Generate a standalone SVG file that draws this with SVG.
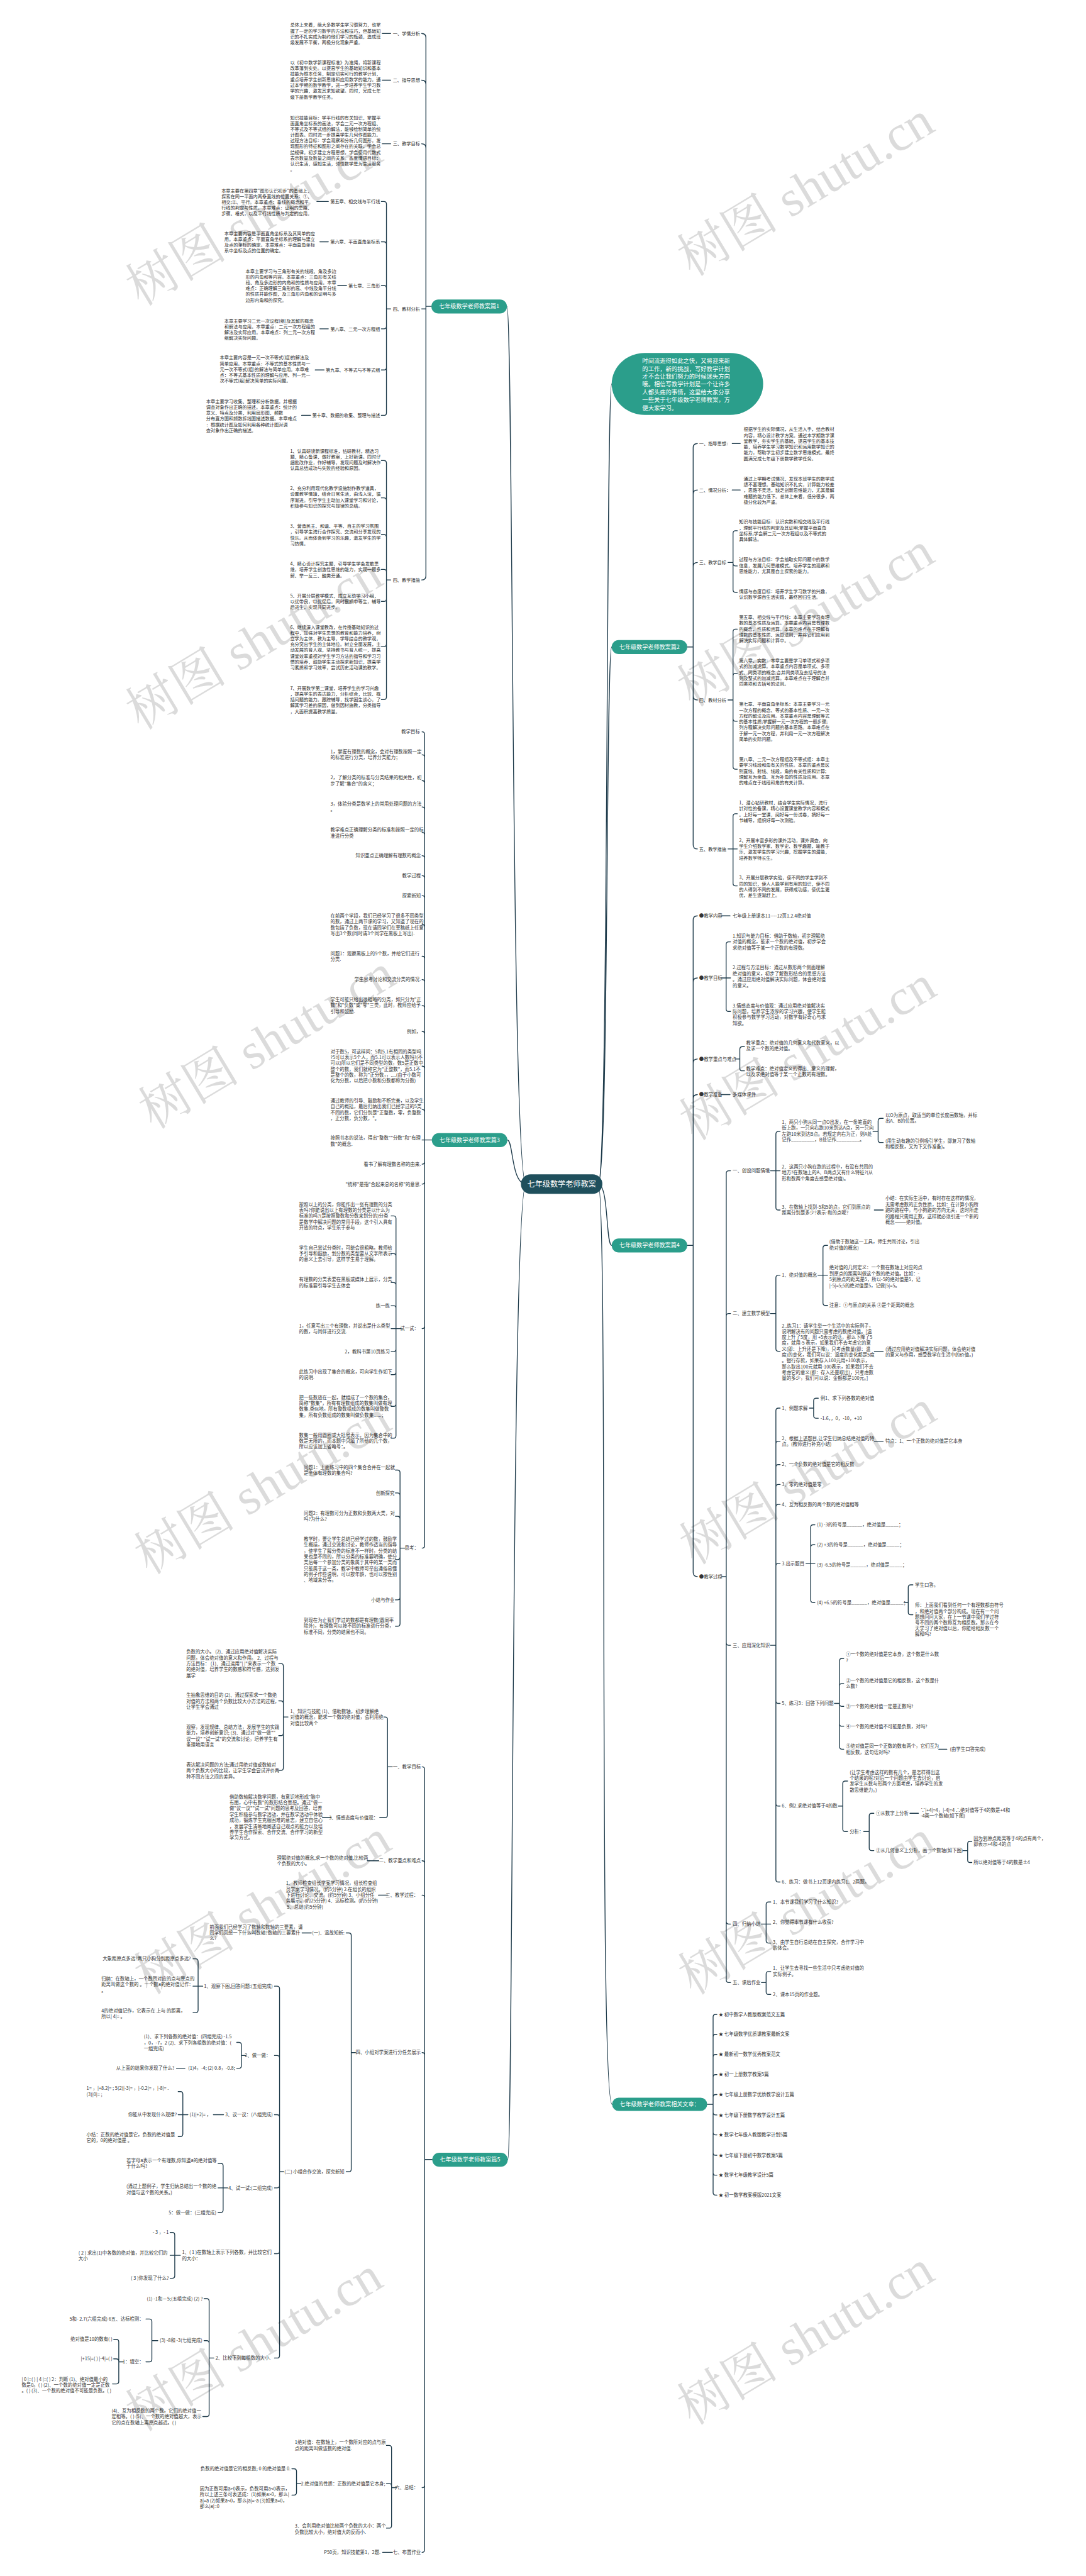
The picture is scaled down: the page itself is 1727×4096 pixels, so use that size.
<svg xmlns="http://www.w3.org/2000/svg" width="1727" height="4096" viewBox="0 0 1727 4096">
<style>
text{font-family:"Noto Sans CJK SC","Liberation Sans",sans-serif;font-size:11px;fill:#333}
.e{text-anchor:end}
.h text{font-size:10.7px;fill:#2a2a2a}
#connectors path{fill:none;stroke:#1d3a4a;stroke-width:2;stroke-linecap:round}
.n rect{fill:#2b9e8b}
.n text{fill:#fff;font-size:13.5px;text-anchor:middle}
.ctr rect{fill:#1f4f5c}
.ctr text{fill:#fff;font-size:18px;text-anchor:middle}
.wm text{font-family:"Liberation Serif","Noto Serif CJK SC","Noto Sans CJK SC",serif;font-size:120px;fill:#000;fill-opacity:.14;text-anchor:middle}
</style>
<rect width="1727" height="4096" fill="#fff"/>
<g transform="scale(0.6746)">
<g id="connectors">
<path d="M1240 2791C1205 2791 1210 722 1195 722M1240 2791C1205 2791 1210 2687 1196 2687M1240 2791C1205 2791 1210 5090 1197 5090M1410 2791C1435 2791 1428 905 1442 905M1410 2791C1435 2791 1428 1525 1442 1525M1410 2791C1435 2791 1428 2935.5 1442 2935.5M1410 2791C1435 2791 1410 4960 1443 4960"/>
<path d="M1017 722H1004V89Q1004 79 994 79M1017 722H1004V199Q1004 189 994 189M1017 722H1004V349Q1004 339 994 339M1017 722H1004V728H994M1017 722H1004V1357Q1004 1367 994 1367"/>
<path d="M901 79H921M901 189H921M901 339H921"/>
<path d="M921 728H911V481Q911 475 905 475H899M921 728H911V576Q911 570 905 570H899M921 728H911V679Q911 673 905 673H899M921 728H911V769Q911 775 905 775H899M921 728H911V866Q911 872 905 872H899M921 728H911V973Q911 979 905 979H899"/>
<path d="M747 475H774M754 570H774M796 673H817M754 775H774M743 872H764M711 979H732"/>
<path d="M921 1367H911V1091.5Q911 1085.5 905 1085.5H899M921 1367H911V1179.5Q911 1173.5 905 1173.5H899M921 1367H911V1266Q911 1260 905 1260H899M921 1367H911V1348Q911 1342 905 1342H899M921 1367H911V1411.5Q911 1417.5 905 1417.5H899M921 1367H911V1518Q911 1524 905 1524H899M921 1367H911V1643Q911 1649 905 1649H899"/>
<path d="M1018 2687H1001V1731Q1001 1725 995 1725M1018 2687H1001V1785Q1001 1779 995 1779M1018 2687H1001V1846Q1001 1840 995 1840M1018 2687H1001V1908Q1001 1902 995 1902M1018 2687H1001V1968Q1001 1962 995 1962M1018 2687H1001V2023Q1001 2017 995 2017M1018 2687H1001V2070Q1001 2064 995 2064M1018 2687H1001V2117Q1001 2111 995 2111M1018 2687H1001V2185Q1001 2179 995 2179M1018 2687H1001V2260Q1001 2254 995 2254M1018 2687H1001V2315Q1001 2309 995 2309M1018 2687H1001V2376Q1001 2370 995 2370M1018 2687H1001V2437Q1001 2431 995 2431M1018 2687H1001V2519Q1001 2513 995 2513M1018 2687H1001V2621Q1001 2615 995 2615M1018 2687H995M1018 2687H1001V2738Q1001 2744 995 2744M1018 2687H1001V2785Q1001 2791 995 2791M1018 2687H1001V3125.6Q1001 3131.6 995 3131.6M1018 2687H1001V3643Q1001 3649 995 3649"/>
<path d="M946 3131.6H933.5V2872Q933.5 2866 927.5 2866H922M946 3131.6H933.5V2961Q933.5 2955 927.5 2955H922M946 3131.6H933.5V3029Q933.5 3023 927.5 3023H922M946 3131.6H933.5V3083.6Q933.5 3077.6 927.5 3077.6H922M946 3131.6H922M946 3131.6H933.5V3179.7Q933.5 3185.7 927.5 3185.7H922M946 3131.6H933.5V3234Q933.5 3240 927.5 3240H922M946 3131.6H933.5V3309Q933.5 3315 927.5 3315H922M946 3131.6H933.5V3384Q933.5 3390 927.5 3390H922"/>
<path d="M955 3649H943V3471Q943 3465 937 3465H932M955 3649H943V3525Q943 3519 937 3519H932M955 3649H943V3580Q943 3574 937 3574H932M955 3649H943V3670Q943 3676 937 3676H932M955 3649H943V3765Q943 3771 937 3771H932M955 3649H943V3827Q943 3833 937 3833H932"/>
<path d="M1019 5090H1001V4170.5Q1001 4164.5 995 4164.5M1019 5090H1001V4392Q1001 4386 995 4386M1019 5090H1001V4473Q1001 4467 995 4467M1019 5090H1001V4844Q1001 4838 995 4838M1019 5090H1001V5857.5Q1001 5863.5 995 5863.5M1019 5090H1001V6010Q1001 6016 995 6016"/>
<path d="M925 4164.5H913.5V4053Q913.5 4047 907.5 4047H905M925 4164.5H913.5V4278Q913.5 4284 907.5 4284H895"/>
<path d="M679 4047H668V3927Q668 3921 662 3921H657M679 4047H668V4015Q668 4009 662 4009H657M679 4047H668V4085Q668 4091 662 4091H657M679 4047H668V4167Q668 4173 662 4173H657"/>
<path d="M760 4284H781M866 4386H893M892 4467H914M712 4556H734M416 4875H436M503 4984.5H527M902 6016H925"/>
<path d="M838 4838H828V4562Q828 4556 822 4556H816M838 4838H828V5113Q828 5119 822 5119H816"/>
<path d="M669 5119H659V4687.5Q659 4681.5 653 4681.5H647M669 5119H659V4851Q659 4845 653 4845H647M669 5119H659V4990.5Q659 4984.5 653 4984.5H647M669 5119H659V5151Q659 5157 653 5157H647M669 5119H659V5306Q659 5312 653 5312H647M669 5119H659V5552Q659 5558 653 5558H647"/>
<path d="M478 4681.5H467V4623Q467 4617 461 4617H455M478 4681.5H455M478 4681.5H467V4738Q467 4744 461 4744H455"/>
<path d="M579 4845H569V4820Q569 4814 563 4814H558M579 4845H569V4869Q569 4875 563 4875H558"/>
<path d="M443 4984.5H431V4936Q431 4930 425 4930H420M443 4984.5H420M443 4984.5H431V5030Q431 5036 425 5036H420"/>
<path d="M537 5157H526V5105Q526 5099 520 5099H514M537 5157H514M537 5157H526V5209Q526 5215 520 5215H514"/>
<path d="M425 5316H412V5268Q412 5262 406 5262H401M425 5316H401M425 5316H412V5364Q412 5370 406 5370H401"/>
<path d="M504 5558H493V5424Q493 5418 487 5418H481M504 5558H493V5523Q493 5517 487 5517H481M504 5558H493V5690Q493 5696 487 5696H478"/>
<path d="M372 5517H358V5472Q358 5466 352 5466H344M372 5517H358V5561Q358 5567 352 5567H344"/>
<path d="M291 5567H280V5520Q280 5514 274 5514H268M291 5567H280V5566Q280 5560 274 5560H268M291 5567H280V5613Q280 5619 274 5619H265"/>
<path d="M935 5863.5H923V5770Q923 5764 917 5764H911M935 5863.5H923V5859.6Q923 5853.6 917 5853.6H911M935 5863.5H923V5953Q923 5959 917 5959H911"/>
<path d="M710 5853.6H699V5825Q699 5819 693 5819H688M710 5853.6H699V5875Q699 5881 693 5881H688"/>
<path d="M1620 1525H1634V1055.5Q1634 1045.5 1644 1045.5M1620 1525H1634V1165Q1634 1155 1644 1155M1620 1525H1634V1335.7Q1634 1325.7 1644 1325.7M1620 1525H1634V1639.8Q1634 1649.8 1644 1649.8M1620 1525H1634V1991Q1634 2001 1644 2001"/>
<path d="M1726 1045.5H1745M1726 1155H1745M1701 2158.7H1721M1701 2580H1721M2061 2852H2082M2061 3185H2082M2061 3397H2082M2213 4123H2232M2145 4274H2165"/>
<path d="M1716 1325.7H1728V1257Q1728 1251 1734 1251H1738M1716 1325.7H1728V1328Q1728 1334 1734 1334H1738M1716 1325.7H1728V1390Q1728 1396 1734 1396H1738"/>
<path d="M1716 1649.8H1728V1489Q1728 1483 1734 1483H1738M1716 1649.8H1728V1593Q1728 1587 1734 1587H1738M1716 1649.8H1728V1694Q1728 1700 1734 1700H1738M1716 1649.8H1728V1807Q1728 1813 1734 1813H1738"/>
<path d="M1716 2001H1728V1924Q1728 1918 1734 1918H1738M1716 2001H1738M1716 2001H1728V2082Q1728 2088 1734 2088H1738"/>
<path d="M1620 2935.5H1634V2168.7Q1634 2158.7 1644 2158.7M1620 2935.5H1634V2315Q1634 2305 1644 2305M1620 2935.5H1634V2506Q1634 2496 1644 2496M1620 2935.5H1634V2590Q1634 2580 1644 2580M1620 2935.5H1634V3706Q1634 3716 1644 3716"/>
<path d="M1701 2305H1711.7V2226Q1711.7 2220 1717.7 2220H1722M1701 2305H1722M1701 2305H1711.7V2378Q1711.7 2384 1717.7 2384H1722"/>
<path d="M1733 2496H1744V2473Q1744 2467 1750 2467H1755M1733 2496H1744V2518Q1744 2524 1750 2524H1755"/>
<path d="M1701 3716H1712V2765.5Q1712 2759.5 1718 2759.5H1722M1701 3716H1712V3102Q1712 3096 1718 3096H1722M1701 3716H1712V3872Q1712 3878 1718 3878H1722M1701 3716H1712V4529Q1712 4535 1718 4535H1722M1701 3716H1712V4667Q1712 4673 1718 4673H1722"/>
<path d="M1816 2759.5H1829V2673Q1829 2667 1835 2667H1839M1816 2759.5H1839M1816 2759.5H1829V2846Q1829 2852 1835 2852H1839"/>
<path d="M2058 2667H2070V2642Q2070 2636 2076 2636H2082M2058 2667H2070V2687Q2070 2693 2076 2693H2082"/>
<path d="M1816 3096H1829V3011.6Q1829 3005.6 1835 3005.6H1839M1816 3096H1829V3179Q1829 3185 1835 3185H1839"/>
<path d="M1928 3005.6H1940V2941.5Q1940 2935.5 1946 2935.5H1951M1928 3005.6H1951M1928 3005.6H1940V3071Q1940 3077 1946 3077H1951"/>
<path d="M1816 3878H1829V3325Q1829 3319 1835 3319H1839M1816 3878H1829V3403Q1829 3397 1835 3397H1839M1816 3878H1829V3458Q1829 3452 1835 3452H1839M1816 3878H1829V3505Q1829 3499 1835 3499H1839M1816 3878H1829V3552Q1829 3546 1835 3546H1839M1816 3878H1829V3691Q1829 3685 1835 3685H1839M1816 3878H1829V4009Q1829 4015 1835 4015H1839M1816 3878H1829V4251Q1829 4257 1835 4257H1839M1816 3878H1829V4430Q1829 4436 1835 4436H1839"/>
<path d="M1908 3319H1918V3301.6Q1918 3295.6 1924 3295.6H1929M1908 3319H1918V3336.8Q1918 3342.8 1924 3342.8H1929"/>
<path d="M1900 3685H1911V3600Q1911 3594 1917 3594H1921M1900 3685H1911V3647Q1911 3641 1917 3641H1921M1900 3685H1921M1900 3685H1911V3771Q1911 3777 1917 3777H1921"/>
<path d="M2131 3777H2141V3741.6Q2141 3735.6 2147 3735.6H2152M2131 3777H2141V3800Q2141 3806 2147 3806H2152"/>
<path d="M1967 4015H1979V3915Q1979 3909 1985 3909H1989M1967 4015H1979V3974Q1979 3968 1985 3968H1989M1967 4015H1979V4016Q1979 4022 1985 4022H1989M1967 4015H1979V4063Q1979 4069 1985 4069H1989M1967 4015H1979V4117Q1979 4123 1985 4123H1989"/>
<path d="M1976 4257H1986.6V4204Q1986.6 4198 1992.6 4198H1998M1976 4257H1986.6V4311Q1986.6 4317 1992.6 4317H1998"/>
<path d="M2036 4317H2049V4280Q2049 4274 2055 4274H2060M2036 4317H2049V4356Q2049 4362 2055 4362H2060"/>
<path d="M2270 4362H2281V4346Q2281 4340 2287 4340H2291M2270 4362H2281V4384Q2281 4390 2287 4390H2291"/>
<path d="M1795 4535H1806V4489Q1806 4483 1812 4483H1817M1795 4535H1817M1795 4535H1806V4574Q1806 4580 1812 4580H1817"/>
<path d="M1795 4673H1806V4653Q1806 4647 1812 4647H1817M1795 4673H1806V4695Q1806 4701 1812 4701H1817"/>
<path d="M1667 4960H1681V4754Q1681 4748 1687 4748H1690M1667 4960H1681V4801Q1681 4795 1687 4795H1690M1667 4960H1681V4848.5Q1681 4842.5 1687 4842.5H1690M1667 4960H1681V4896Q1681 4890 1687 4890H1690M1667 4960H1681V4943Q1681 4937 1687 4937H1690M1667 4960H1681V4979Q1681 4985 1687 4985H1690M1667 4960H1681V5026Q1681 5032 1687 5032H1690M1667 4960H1681V5074Q1681 5080 1687 5080H1690M1667 4960H1681V5121Q1681 5127 1687 5127H1690M1667 4960H1681V5168Q1681 5174 1687 5174H1690"/>
</g>

<g id="center" class="ctr"><rect x="1228" y="2768" width="192" height="46" rx="23"/><text x="1324" y="2797">七年级数学老师教案</text></g>
<g id="intro"><rect x="1442" y="832" width="357" height="146" rx="78" fill="#2b9e8b"/><text x="1514" y="856" style="fill:#fff;font-size:13.8px">时间流逝得如此之快，又将迎来新<tspan x="1514" dy="18.3">的工作，新的挑战，写好教学计划</tspan><tspan x="1514" dy="18.3">才不会让我们努力的时候迷失方向</tspan><tspan x="1514" dy="18.3">哦。相信写教学计划是一个让许多</tspan><tspan x="1514" dy="18.3">人都头痛的事情，这里给大家分享</tspan><tspan x="1514" dy="18.3">一些关于七年级数学老师教案，方</tspan><tspan x="1514" dy="18.3">便大家学习。</tspan></text></g>

<g id="p1" class="h">
<g id="p1-node" class="n"><rect x="1017" y="706" width="178" height="33" rx="16.5"/><text x="1106" y="727">七年级数学老师教案篇1</text></g>
<g id="p1-a"><text class="e" x="990" y="83">一、学情分析</text></g>
<g id="p1-a1"><text x="684" y="63">总体上来看，绝大多数学生学习很努力，也掌<tspan x="684" dy="13.6">握了一定的学习数学的方法和技巧，但基础知</tspan><tspan x="684" dy="13.6">识的不扎实成为制约他们学习的瓶颈，造成班</tspan><tspan x="684" dy="13.6">级发展不平衡，两极分化现象严重。</tspan></text></g>
<g id="p1-b"><text class="e" x="990" y="193">二、指导思想</text></g>
<g id="p1-b1"><text x="684" y="150.5">以《初中数学新课程标准》为准绳，将新课程<tspan x="684" dy="13.6">改革落到实处。以提高学生的基础知识和基本</tspan><tspan x="684" dy="13.6">技能为根本任务，制定切实可行的教学计划，</tspan><tspan x="684" dy="13.6">重点培养学生创新思维和应用数学的能力。通</tspan><tspan x="684" dy="13.6">过本学期的数学教学，进一步培养学生学习数</tspan><tspan x="684" dy="13.6">学的兴趣，激发其求知欲望。同时，完成七年</tspan><tspan x="684" dy="13.6">级下册数学教学任务。</tspan></text></g>
<g id="p1-c"><text class="e" x="990" y="343">三、教学目标</text></g>
<g id="p1-c1"><text x="684" y="281">知识技能目标：学平行线的有关知识，掌握平<tspan x="684" dy="13.6">面直角坐标系的画法，学会二元一次方程组、</tspan><tspan x="684" dy="13.6">不等式及不等式组的解法，能够绘制简单的统</tspan><tspan x="684" dy="13.6">计图表。同时进一步提高学生几何作图能力。</tspan><tspan x="684" dy="13.6">过程方法目标：学会观察和分析几何图形，发</tspan><tspan x="684" dy="13.6">现图形的特征和图形之间存在的关联，学会总</tspan><tspan x="684" dy="13.6">结规律。初步建立方程思想，学会使用代数式</tspan><tspan x="684" dy="13.6">表示数量及数量之间的关系。态度情感目标：</tspan><tspan x="684" dy="13.6">认识生活，感知生活，领悟数学是为生活服务</tspan><tspan x="684" dy="13.6">。</tspan></text></g>
<g id="p1-d"><text class="e" x="990" y="732">四、教材分析</text></g>
<g id="p1-d1"><text class="e" x="896" y="479">第五章、相交线与平行线</text></g>
<g id="p1-d1t"><text x="522" y="453">本章主要在第四章"图形认识初步"的基础上，<tspan x="522" dy="13.6">探索在同一平面内两条直线的位置关系：①、</tspan><tspan x="522" dy="13.6">相交;②、平行。本章重点：垂线的概念和平</tspan><tspan x="522" dy="13.6">行线的判定与性质。本章难点：证明的思路、</tspan><tspan x="522" dy="13.6">步骤、格式，以及平行线性质与判定的应用。</tspan></text></g>
<g id="p1-d2"><text class="e" x="896" y="574">第六章、平面直角坐标系</text></g>
<g id="p1-d2t"><text x="529" y="554">本章主要内容是平面直角坐标系及其简单的应<tspan x="529" dy="13.6">用。本章重点：平面直角坐标系的理解与建立</tspan><tspan x="529" dy="13.6">及点的坐标的确定。本章难点：平面直角坐标</tspan><tspan x="529" dy="13.6">系中坐标及点的位置的确定。</tspan></text></g>
<g id="p1-d3"><text class="e" x="896" y="677">第七章、三角形</text></g>
<g id="p1-d3t"><text x="579" y="643">本章主要学习与三角形有关的线段、角及多边<tspan x="579" dy="13.6">形的内角和等内容。本章重点：三角形有关线</tspan><tspan x="579" dy="13.6">段、角及多边形的内角和的性质与应用。本章</tspan><tspan x="579" dy="13.6">难点：正确理解三角形的高、中线及角平分线</tspan><tspan x="579" dy="13.6">的性质并能作图，及三角形内角和的证明与多</tspan><tspan x="579" dy="13.6">边形内角和的探究。</tspan></text></g>
<g id="p1-d4"><text class="e" x="896" y="779">第八章、二元一次方程组</text></g>
<g id="p1-d4t"><text x="529" y="760">本章主要学习二元一次议程(组)及其解的概念<tspan x="529" dy="13.6">和解法与应用。本章重点：二元一次方程组的</tspan><tspan x="529" dy="13.6">解法及实际应用。本章难点：列二元一次方程</tspan><tspan x="529" dy="13.6">组解决实际问题。</tspan></text></g>
<g id="p1-d5"><text class="e" x="896" y="876">第九章、不等式与不等式组</text></g>
<g id="p1-d5t"><text x="518" y="847">本章主要内容是一元一次不等式(组)的解法及<tspan x="518" dy="13.6">简单应用。本章重点：不等式的基本性质与一</tspan><tspan x="518" dy="13.6">元一次不等式(组)的解法与简单应用。本章难</tspan><tspan x="518" dy="13.6">点：不等式基本性质的理解与应用、列一元一</tspan><tspan x="518" dy="13.6">次不等式(组)解决简单的实际问题。</tspan></text></g>
<g id="p1-d6"><text class="e" x="896" y="983">第十章、数据的收集、整理与描述</text></g>
<g id="p1-d6t"><text x="486" y="950">本章主要学习收集、整理和分析数据，并根据<tspan x="486" dy="13.6">调查对象作出正确的描述。本章重点：统计的</tspan><tspan x="486" dy="13.6">意义、特点及分类，利用扇形图、频数</tspan><tspan x="486" dy="13.6">分布直方图和频数拆线图描述数据。本章难点</tspan><tspan x="486" dy="13.6">：根据统计图及如何利用各种统计图对调</tspan><tspan x="486" dy="13.6">查对象作出正确的描述。</tspan></text></g>
<g id="p1-e"><text class="e" x="990" y="1371">四、教学措施</text></g>
<g id="p1-e1"><text x="684" y="1066.6">1、认真研读新课程标准，钻研教材，精选习<tspan x="684" dy="13.6">题，精心备课，做好教案，上好新课。同时仔</tspan><tspan x="684" dy="13.6">细批改作业，作好辅导，发现问题及时解决作</tspan><tspan x="684" dy="13.6">认真总结成功与失败的经验和原因。</tspan></text></g>
<g id="p1-e2"><text x="684" y="1155">2、充分利用现代化教学设施制作教学道具，<tspan x="684" dy="13.6">设置教学情境，结合日常生活，由浅入深，循</tspan><tspan x="684" dy="13.6">序渐进。引导学生主动加入课堂学习和讨论，</tspan><tspan x="684" dy="13.6">积极参与知识的探究与规律的总结。</tspan></text></g>
<g id="p1-e3"><text x="684" y="1244">3、营造民主、和谐、平等、自主的学习氛围<tspan x="684" dy="13.6">，引导学生进行合作探究、交流和分享发现的</tspan><tspan x="684" dy="13.6">快乐。从而体会到学习的乐趣，激发学生的学</tspan><tspan x="684" dy="13.6">习热情。</tspan></text></g>
<g id="p1-e4"><text x="684" y="1333">4、精心设计探究主题，引导学生学会发散思<tspan x="684" dy="13.6">维，培养学生创造性思维的能力，实现一题多</tspan><tspan x="684" dy="13.6">解、举一反三、触类旁通。</tspan></text></g>
<g id="p1-e5"><text x="684" y="1408">5、开展分层教学模式，成立互助学习小组，<tspan x="684" dy="13.6">以优带良，以优促后。同时狠抓中等生，辅导</tspan><tspan x="684" dy="13.6">后进生，实现共同进步。</tspan></text></g>
<g id="p1-e6"><text x="684" y="1482">6、继续深入课堂教改，在传授基础知识的过<tspan x="684" dy="13.6">程中，加强对学生思想的教育和能力培养，树</tspan><tspan x="684" dy="13.6">立学为主体，教为主导，学导结合的教学观，</tspan><tspan x="684" dy="13.6">充分突出学生的主体地位。树立全面发展，主</tspan><tspan x="684" dy="13.6">动发展的育人观，坚持教书与育人统一，提高</tspan><tspan x="684" dy="13.6">课堂效率重视对学生学习方法的指导和学习习</tspan><tspan x="684" dy="13.6">惯的培养，鼓励学生主动探求新知识，提高学</tspan><tspan x="684" dy="13.6">习素质和学习效率，尝试历史活动课的教学。</tspan></text></g>
<g id="p1-e7"><text x="684" y="1626">7、开展数学第二课堂，培养学生的学习兴趣<tspan x="684" dy="13.6">，提高学生的表达能力，分析综合，比较、概</tspan><tspan x="684" dy="13.6">括问题的能力。跟踪辅导，找学困生谈心，了</tspan><tspan x="684" dy="13.6">解其学习差的原因，做到因材施教，分类指导</tspan><tspan x="684" dy="13.6">，大面积提高教学质量。</tspan></text></g>
</g>

<g id="p3">
<g id="p3-node" class="n"><rect x="1018" y="2671" width="178" height="33" rx="16.5"/><text x="1107" y="2692">七年级数学老师教案篇3</text></g>
<g id="p3-1"><text class="e" x="990" y="1729">教学目标</text></g>
<g id="p3-2"><text x="779" y="1776">1，掌握有理数的概念，会对有理数按照一定<tspan x="779" dy="13.8">的标准进行分类，培养分类能力；</tspan></text></g>
<g id="p3-3"><text x="779" y="1837">2，了解分类的标准与分类结果的相关性，初<tspan x="779" dy="13.8">步了解"集合"的含义；</tspan></text></g>
<g id="p3-4"><text x="779" y="1898.5">3，体验分类是数学上的常用处理问题的方法<tspan x="779" dy="13.8">。</tspan></text></g>
<g id="p3-5"><text x="779" y="1960">教学难点正确理解分类的标准和按照一定的标<tspan x="779" dy="13.8">准进行分类</tspan></text></g>
<g id="p3-6"><text class="e" x="992" y="2021">知识重点正确理解有理数的概念</text></g>
<g id="p3-7"><text class="e" x="992" y="2068">教学过程</text></g>
<g id="p3-8"><text class="e" x="992" y="2115">探索新知</text></g>
<g id="p3-9"><text x="779" y="2163">在前两个学段，我们已经学习了很多不同类型<tspan x="779" dy="13.8">的数，通过上两节课的学习，又知道了现在的</tspan><tspan x="779" dy="13.8">数包括了负数，现在请同学们在草稿纸上任意</tspan><tspan x="779" dy="13.8">写出3个数(同时请3个同学在黑板上写出).</tspan></text></g>
<g id="p3-10"><text x="779" y="2251.6">问题1：观察黑板上的9个数，并给它们进行<tspan x="779" dy="13.8">分类.</tspan></text></g>
<g id="p3-11"><text class="e" x="992" y="2313">学生思考讨论和交流分类的情况.</text></g>
<g id="p3-12"><text x="779" y="2360">学生可能只给出很粗略的分类，如只分为"正<tspan x="779" dy="13.8">数"和"负数"或"零"三类，此时，教师应给予</tspan><tspan x="779" dy="13.8">引导和鼓励.</tspan></text></g>
<g id="p3-13"><text class="e" x="992" y="2435">例如，</text></g>
<g id="p3-14"><text x="779" y="2482.6">对于数5，可这样问：5和5.1有相同的类型吗<tspan x="779" dy="13.8">?5可以表示5个人，而5.1可以表示人数吗?(不</tspan><tspan x="779" dy="13.8">可以)所以它们是不同类型的数，数5是正数中</tspan><tspan x="779" dy="13.8">整个的数，我们就称它为"正整数"，而5.1不</tspan><tspan x="779" dy="13.8">是整个的数，称为"正分数，，....(由于小数可</tspan><tspan x="779" dy="13.8">化为分数，以后把小数和分数都称为分数)</tspan></text></g>
<g id="p3-15"><text x="779" y="2598.5">通过教师的引导、鼓励和不断完善，以及学生<tspan x="779" dy="13.8">自己的概括，最后归纳出我们已经学过的5类</tspan><tspan x="779" dy="13.8">不同的数，它们分别是"正整数，零，负整数</tspan><tspan x="779" dy="13.8">，正分数，负分数，"。</tspan></text></g>
<g id="p3-16"><text x="779" y="2686.6">按照书本的说法，得出"整数""分数"和"有理<tspan x="779" dy="13.8">数"的概念.</tspan></text></g>
<g id="p3-17"><text class="e" x="992" y="2748">看书了解有理数名称的由来.</text></g>
<g id="p3-18"><text class="e" x="992" y="2795">"统称"是指"合起来总的名称"的意思.</text></g>
<g id="p3-19"><text class="e" x="987" y="3135.6">试一试：</text></g>
<g id="p3-19a"><text x="705" y="2842.8">按照以上的分类，你能作出一张有理数的分类<tspan x="705" dy="13.8">表吗?你能说出以上有理数的分类是以什么为</tspan><tspan x="705" dy="13.8">标准的吗?(是按照整数和分数来划分的)分类</tspan><tspan x="705" dy="13.8">是数学中解决问题的常用手段，这个引入具有</tspan><tspan x="705" dy="13.8">开放的特点，学生乐于参与</tspan></text></g>
<g id="p3-19b"><text x="705" y="2945">学生自己尝试分类时，可能会很粗略，教师给<tspan x="705" dy="13.8">予引导和鼓励，划分数的类型要从文字所表示</tspan><tspan x="705" dy="13.8">的意义上去引导，这样学生易于理解。</tspan></text></g>
<g id="p3-19c"><text x="705" y="3020">有理数的分类表要在黑板或媒体上展示，分类<tspan x="705" dy="13.8">的标准要引导学生去体会</tspan></text></g>
<g id="p3-19d"><text class="e" x="919" y="3081.6">练一练</text></g>
<g id="p3-19e"><text x="705" y="3129">1，任意写出三个有理数，并说出是什么类型<tspan x="705" dy="13.8">的数，与同伴进行交流.</tspan></text></g>
<g id="p3-19f"><text class="e" x="919" y="3189.7">2，教科书第10页练习</text></g>
<g id="p3-19g"><text x="705" y="3237">此练习中出现了集合的概念，可向学生作如下<tspan x="705" dy="13.8">的说明.</tspan></text></g>
<g id="p3-19h"><text x="705" y="3298">把一些数放在一起，就组成了一个数的集合，<tspan x="705" dy="13.8">简称"数集"，所有有理数组成的数集叫做有理</tspan><tspan x="705" dy="13.8">数集.类似地，所有整数组成的数集叫做整数</tspan><tspan x="705" dy="13.8">集，所有负数组成的数集叫做负数集......；</tspan></text></g>
<g id="p3-19i"><text x="705" y="3387">数集一般用圆圈或大括号表示，因为集合中的<tspan x="705" dy="13.8">数是无限的，而本题中只填了所给的几个数，</tspan><tspan x="705" dy="13.8">所以应该加上省略号：。</tspan></text></g>
<g id="p3-20"><text class="e" x="987" y="3653">思考：</text></g>
<g id="p3-20a"><text x="716" y="3462.5">问题1：上面练习中的四个集合合并在一起就<tspan x="716" dy="13.8">是全体有理数的集合吗?</tspan></text></g>
<g id="p3-20b"><text class="e" x="930" y="3523">创新探究</text></g>
<g id="p3-20c"><text x="716" y="3571">问题2：有理数可分为正数和负数两大类，对<tspan x="716" dy="13.8">吗?为什么?</tspan></text></g>
<g id="p3-20d"><text x="716" y="3632">教学时，要让学生总结已经学过的数，鼓励学<tspan x="716" dy="13.8">生概括，通过交流和讨论，教师作适当的指导</tspan><tspan x="716" dy="13.8">，使学生了解分类的标准不一样时，分类的结</tspan><tspan x="716" dy="13.8">果也是不同的，所以分类的标准要明确，使分</tspan><tspan x="716" dy="13.8">类后每一个参加分类的象属于其中的某一类而</tspan><tspan x="716" dy="13.8">只能属于这一类，教学中教师可举出通俗易懂</tspan><tspan x="716" dy="13.8">的例子作些说明，可以按年龄，也可以按性别</tspan><tspan x="716" dy="13.8">、地域来分等。</tspan></text></g>
<g id="p3-20e"><text class="e" x="930" y="3775">小结与作业</text></g>
<g id="p3-20f"><text x="716" y="3823">到现在为止我们学过的数都是有理数(圆周率<tspan x="716" dy="13.8">除外)，有理数可以按不同的标准进行分类，</tspan><tspan x="716" dy="13.8">标准不同，分类的结果也不同。</tspan></text></g>
</g>

<g id="p5">
<g id="p5-node" class="n"><rect x="1019" y="5074" width="178" height="33" rx="16.5"/><text x="1108" y="5095">七年级数学老师教案篇5</text></g>
<g id="p5-1"><text class="e" x="992" y="4168.5">一、教学目标</text></g>
<g id="p5-1a"><text x="684" y="4038">1、知识与技能 (1)、借助数轴，初步理解绝<tspan x="684" dy="13.8">对值的概念，能求一个数的绝对值，会利用绝</tspan><tspan x="684" dy="13.8">对值比较两个</tspan></text></g>
<g id="p5-1a1"><text x="439" y="3897.6">负数的大小。 (2)、通过应用绝对值解决实际<tspan x="439" dy="13.8">问题，体会绝对值的意义和作用。 2、过程与</tspan><tspan x="439" dy="13.8">方法目标： (1)、通过运用"| |"来表示一个数</tspan><tspan x="439" dy="13.8">的绝对值，培养学生的数感和符号感，达到发</tspan><tspan x="439" dy="13.8">展学</tspan></text></g>
<g id="p5-1a2"><text x="439" y="4000">生抽象思维的目的 (2)、通过探索求一个数绝<tspan x="439" dy="13.8">对值的方法和两个负数比较大小方法的过程，</tspan><tspan x="439" dy="13.8">让学生学会通过</tspan></text></g>
<g id="p5-1a3"><text x="439" y="4075">观察，发现规律、总结方法，发展学生的实践<tspan x="439" dy="13.8">能力，培养创新意识; (3)、通过对"做一做""</tspan><tspan x="439" dy="13.8">议一议" "试一试"的交流和讨论，培养学生有</tspan><tspan x="439" dy="13.8">条理地用语言</tspan></text></g>
<g id="p5-1a4"><text x="439" y="4164">表达解决问题的方法;通过用绝对值或数轴对<tspan x="439" dy="13.8">两个负数大小的比较，让学生学会尝试评价两</tspan><tspan x="439" dy="13.8">种不同方法之间的差异。</tspan></text></g>
<g id="p5-1b"><text class="e" x="891" y="4288">3、情感态度与价值观：</text></g>
<g id="p5-1b1"><text x="541" y="4239">借助数轴解决数学问题，有意识地形成"脑中<tspan x="541" dy="13.9">有图，心中有数"的数形结合思想。通过"做一</tspan><tspan x="541" dy="13.9">做"议一议""试一试"问题的思考及回答，培养</tspan><tspan x="541" dy="13.9">学生积极参与数学活动，并在数学活动中体验</tspan><tspan x="541" dy="13.9">成功，锻炼学生克服困难的意志，建立自信心</tspan><tspan x="541" dy="13.9">，发展学生清晰地阐述自己观点的能力以及培</tspan><tspan x="541" dy="13.9">养学生合作探索、合作交流、合作学习的新型</tspan><tspan x="541" dy="13.9">学习方式。</tspan></text></g>
<g id="p5-2"><text class="e" x="992" y="4390">二、教学重点和难点</text></g>
<g id="p5-2a"><text x="653" y="4383">理解绝对值的概念,求一个数的绝对值,比较两<tspan x="653" dy="13.9">个负数的大小。</tspan></text></g>
<g id="p5-3"><text class="e" x="986" y="4471">三、教学过程：</text></g>
<g id="p5-3a"><text x="674" y="4443">1、教师检查组长学案学习情况，组长检查组<tspan x="674" dy="13.9">员学案学习情况。(约5分钟) 2.在组长的组织</tspan><tspan x="674" dy="13.9">下进行讨论、交流。(约5分钟) 3、小组分任</tspan><tspan x="674" dy="13.9">务展示。(约25分钟) 4、达标检测。(约5分钟)</tspan><tspan x="674" dy="13.9"> 5、总结(约5分钟)</tspan></text></g>
<g id="p5-4"><text class="e" x="992" y="4842">四、小组对学案进行分任务展示</text></g>
<g id="p5-4a"><text class="e" x="812" y="4560">(一)、温故知新:</text></g>
<g id="p5-4a1"><text x="494" y="4546">前面我们已经学习了数轴和数轴的三要素，请<tspan x="494" dy="13.9">同学们回想一下什么叫数轴?数轴的三要素什</tspan><tspan x="494" dy="13.9">么?</tspan></text></g>
<g id="p5-4b"><text class="e" x="812" y="5123">(二) 小组合作交流，探究新知</text></g>
<g id="p5-4b1"><text class="e" x="643" y="4685.5">1、观察下图,回答问题:(五组完成)</text></g>
<g id="p5-4b1a"><text class="e" x="450" y="4621">大象距原点多远?两只小狗分别距原点多远?</text></g>
<g id="p5-4b1b"><text x="239" y="4668">归纳：在数轴上，一个数所对应的点与原点的<tspan x="239" dy="13.9">距离叫做这个数的 。一个数a的绝对值记作：</tspan><tspan x="239" dy="13.9">。</tspan></text></g>
<g id="p5-4b1c"><text x="239" y="4743.5">4的绝对值记作，它表示在 上与 的距离，<tspan x="239" dy="13.9">所以| 4|= 。</tspan></text></g>
<g id="p5-4b2"><text class="e" x="638" y="4849">2、做一做：</text></g>
<g id="p5-4b2a"><text x="339" y="4805">(1)、求下列各数的绝对值：(四组完成) -1.5<tspan x="339" dy="13.9">，0，-7，2 (2)、求下列各组数的绝对值：(</tspan><tspan x="339" dy="13.9">一组完成)</tspan></text></g>
<g id="p5-4b2b"><text class="e" x="554" y="4879">(1)4，-4; (2) 0.8，-0.8;</text></g>
<g id="p5-4b2c"><text class="e" x="411" y="4879">从上面的结果你发现了什么?</text></g>
<g id="p5-4b3"><text class="e" x="643" y="4988.5">3、议一议：(八组完成)</text></g>
<g id="p5-4b3a"><text class="e" x="498" y="4988.5">(1)|+2|= ，</text></g>
<g id="p5-4b3b"><text x="204" y="4926.5">1= ，|+8.2|= ; 5(2)|-3|= ，|-0.2|= ，|-8|= .<tspan x="204" dy="13.9">(3)|0|= ;</tspan></text></g>
<g id="p5-4b3c"><text class="e" x="417" y="4988.5">你能从中发现什么规律?</text></g>
<g id="p5-4b3d"><text x="204" y="5035">小结：正数的绝对值是它，负数的绝对值是<tspan x="204" dy="13.9">它的，0的绝对值是 。</tspan></text></g>
<g id="p5-4b4"><text class="e" x="643" y="5161">4、试一试:(二组完成)</text></g>
<g id="p5-4b4a"><text x="298" y="5096">若字母a表示一个有理数,你知道a的绝对值等<tspan x="298" dy="13.9">于什么吗?</tspan></text></g>
<g id="p5-4b4b"><text x="298" y="5157.5">(通过上题例子，学生归纳总结出一个数的绝<tspan x="298" dy="13.9">对值与这个数的关系。)</tspan></text></g>
<g id="p5-4b4c"><text class="e" x="510" y="5219">5：做一做：(三组完成)</text></g>
<g id="p5-4b5"><text x="429" y="5313">1、( 1 )在数轴上表示下列各数，并比较它们<tspan x="429" dy="13.9">的大小：</tspan></text></g>
<g id="p5-4b5a"><text class="e" x="398" y="5266">- 3 ，- 1</text></g>
<g id="p5-4b5b"><text x="185" y="5314">( 2 ) 求出(1)中各数的绝对值，并比较它们的<tspan x="185" dy="13.9">大小</tspan></text></g>
<g id="p5-4b5c"><text class="e" x="398" y="5374">( 3 )你发现了什么?</text></g>
<g id="p5-4b6"><text class="e" x="638" y="5562">2、比较下列每组数的大小.</text></g>
<g id="p5-4b6a"><text class="e" x="478" y="5422">(1) -1和－5;(五组完成) (2) ?</text></g>
<g id="p5-4b6b"><text class="e" x="477" y="5521">(3) -8和 -3(七组完成)</text></g>
<g id="p5-4b6b1"><text class="e" x="339" y="5470">5和- 2.7(六组完成) 6五、达标检测：</text></g>
<g id="p5-4b6b2"><text class="e" x="339" y="5571">1：填空：</text></g>
<g id="p5-4b6b2a"><text class="e" x="265" y="5518">绝对值是10的数有( )</text></g>
<g id="p5-4b6b2b"><text class="e" x="265" y="5564">|+15|=( ) |-4|=( )</text></g>
<g id="p5-4b6b2c"><text x="51" y="5611.6">| 0 |=( ) | 4 |=( ) 2：判断 (1)、绝对值最小的<tspan x="51" dy="13.9">数是0。( ) (2)、一个数的绝对值一定是正数</tspan><tspan x="51" dy="13.9">。( ) (3)、一个数的绝对值不可能是负数。( )</tspan></text></g>
<g id="p5-4b6c"><text x="263" y="5686">(4)、互为相反数的两个数，它们的绝对值一<tspan x="263" dy="13.9">定相等。( ) (5)、一个数的绝对值越大，表示</tspan><tspan x="263" dy="13.9">它的点在数轴上离原点越近。( )</tspan></text></g>
<g id="p5-6"><text class="e" x="986" y="5867.5">六、总结：</text></g>
<g id="p5-6a"><text x="695" y="5761">1绝对值：在数轴上，一个数所对应的点与原<tspan x="695" dy="13.9">点的距离叫做该数的绝对值.</tspan></text></g>
<g id="p5-6b"><text class="e" x="908" y="5857.6">2.绝对值的性质：正数的绝对值是它本身;</text></g>
<g id="p5-6b1"><text class="e" x="685" y="5823">负数的绝对值是它的相反数; 0 的绝对值是 0.</text></g>
<g id="p5-6b2"><text x="471" y="5870">因为正数可用a&gt;0表示，负数可用a&lt;0表示，<tspan x="471" dy="13.9">所以上述三条可表述成：(1)如果a&gt;0，那么|</tspan><tspan x="471" dy="13.9">a|=a (2)如果a&lt;0，那么|a|=-a (3)如果a=0，</tspan><tspan x="471" dy="13.9">那么|a|=0</tspan></text></g>
<g id="p5-6c"><text x="695" y="5958">3、会利用绝对值比较两个负数的大小：两个<tspan x="695" dy="13.9">负数比较大小，绝对值大的反而小.</tspan></text></g>
<g id="p5-7"><text class="e" x="992" y="6020">七、布置作业</text></g>
<g id="p5-7a"><text class="e" x="897" y="6020">P50页，知识技能第1，2题.</text></g>
</g>

<g id="p2" class="h">
<g id="p2-node" class="n"><rect x="1442" y="1508.5" width="178" height="33" rx="16.5"/><text x="1531" y="1529.5">七年级数学老师教案篇2</text></g>
<g id="p2-1"><text x="1648" y="1049.5">一、指导思想：</text></g>
<g id="p2-1a"><text x="1753" y="1016">根据学生的实际情况，从生活入手，结合教材<tspan x="1753" dy="13.7">内容，精心设计教学方案。通过本学期数学课</tspan><tspan x="1753" dy="13.7">堂教学，夯实学生的基础，提高学生的基本技</tspan><tspan x="1753" dy="13.7">能，培养学生学习数学知识和运用数学知识的</tspan><tspan x="1753" dy="13.7">能力，帮助学生初步建立数学思维模式。最终</tspan><tspan x="1753" dy="13.7">圆满完成七年级下册数学教学任务。</tspan></text></g>
<g id="p2-2"><text x="1648" y="1159">二、情况分析：</text></g>
<g id="p2-2a"><text x="1753" y="1132.4">通过上学期考试情况，发现本班学生的数学成<tspan x="1753" dy="13.7">绩不甚理想。基础知识不扎实，计算能力较差</tspan><tspan x="1753" dy="13.7">，思路不灵活，缺乏创新思维能力，尤其是解</tspan><tspan x="1753" dy="13.7">难题的能力低下。总体上来看，低分很多，两</tspan><tspan x="1753" dy="13.7">极分化较为严重。</tspan></text></g>
<g id="p2-3"><text x="1648" y="1329.7">三、教学目标</text></g>
<g id="p2-3a"><text x="1742" y="1234">知识与技能目标：认识实数和相交线及平行线<tspan x="1742" dy="13.7">，理解平行线的判定及其证明;掌握平面直角</tspan><tspan x="1742" dy="13.7">坐标系;学会解二元一次方程组以及不等式的</tspan><tspan x="1742" dy="13.7">具体解法。</tspan></text></g>
<g id="p2-3b"><text x="1742" y="1323">过程与方法目标：学会抽取实际问题中的数学<tspan x="1742" dy="13.7">信息，发展几何思维模式。培养学生的观察和</tspan><tspan x="1742" dy="13.7">思维能力，尤其是自主探索的能力。</tspan></text></g>
<g id="p2-3c"><text x="1742" y="1397.7">情感与态度目标：培养学生学习数学的兴趣，<tspan x="1742" dy="13.7">认识数学源自生活实践，最终回归生活。</tspan></text></g>
<g id="p2-4"><text x="1648" y="1653.8">四、教材分析</text></g>
<g id="p2-4a"><text x="1742" y="1459">第五章、相交线与平行线：本章主要学习有理<tspan x="1742" dy="13.7">数的基本性质及运算。本章重点内容是有理数</tspan><tspan x="1742" dy="13.7">的概念，性质和运算。本章的难点在于理解有</tspan><tspan x="1742" dy="13.7">理数的基本性质、运算法则，并将它们应用到</tspan><tspan x="1742" dy="13.7">解决实际问题和计算中。</tspan></text></g>
<g id="p2-4b"><text x="1742" y="1561">第六章、实数：本章主要是学习单项式和多项<tspan x="1742" dy="13.7">式的加减运算。本章重点内容是单项式、多项</tspan><tspan x="1742" dy="13.7">式、同类项的概念;合并同类项及去括号的法</tspan><tspan x="1742" dy="13.7">则及整式的加减运算。本章难点在于理解合并</tspan><tspan x="1742" dy="13.7">同类项和去括号的法则。</tspan></text></g>
<g id="p2-4c"><text x="1742" y="1663.8">第七章、平面直角坐标系：本章主要学习一元<tspan x="1742" dy="13.7">一次方程的概念、等式的基本性质、一元一次</tspan><tspan x="1742" dy="13.7">方程的解法及应用。本章重点内容是理解等式</tspan><tspan x="1742" dy="13.7">的基本性质;掌握解一元一次方程的一般步骤;</tspan><tspan x="1742" dy="13.7">列方程解决实际问题的基本思路。本章难点在</tspan><tspan x="1742" dy="13.7">于解一元一次方程，并利用一元一次方程解决</tspan><tspan x="1742" dy="13.7">简单的实际问题。</tspan></text></g>
<g id="p2-4d"><text x="1742" y="1794">第八章、二元一次方程组及不等式组：本章主<tspan x="1742" dy="13.7">要学习线段和角有关的性质。本章的重点是区</tspan><tspan x="1742" dy="13.7">别直线、射线、线段，角的有关性质和计算;</tspan><tspan x="1742" dy="13.7">理解互为余角、互为补角的性质及应用。本章</tspan><tspan x="1742" dy="13.7">的难点在于线段和角的有关计算。</tspan></text></g>
<g id="p2-5"><text x="1648" y="2005">五、教学措施</text></g>
<g id="p2-5a"><text x="1742" y="1896">1、潜心钻研教材，结合学生实际情况，进行<tspan x="1742" dy="13.7">针对性的备课，精心设置课堂教学内容和模式</tspan><tspan x="1742" dy="13.7">。上好每一堂课，阅好每一份试卷，搞好每一</tspan><tspan x="1742" dy="13.7">节辅导，组织好每一次测验。</tspan></text></g>
<g id="p2-5b"><text x="1742" y="1984.6">2、开展丰富多彩的课外活动，课外调查，向<tspan x="1742" dy="13.7">学生介绍数学家、数学史、数学趣题，喻教于</tspan><tspan x="1742" dy="13.7">乐，激发学生的学习兴趣，挖掘学生的潜能，</tspan><tspan x="1742" dy="13.7">培养数学特长生。</tspan></text></g>
<g id="p2-5c"><text x="1742" y="2073">3、开展分层教学实验，使不同的学生学到不<tspan x="1742" dy="13.7">同的知识，使人人能学到有用的知识，使不同</tspan><tspan x="1742" dy="13.7">的人得到不同的发展，获得成功感，使优生更</tspan><tspan x="1742" dy="13.7">优，差生逐渐赶上。</tspan></text></g>
</g>

<g id="p4">
<g id="p4-node" class="n"><rect x="1442" y="2919" width="178" height="33" rx="16.5"/><text x="1531" y="2940">七年级数学老师教案篇4</text></g>
<g id="p4-1"><text x="1648" y="2162.7">●教学内容</text></g>
<g id="p4-1a"><text x="1727" y="2162.7">七年级上册课本11----12页1.2.4绝对值</text></g>
<g id="p4-2"><text x="1648" y="2309">●教学目标</text></g>
<g id="p4-2a"><text x="1727" y="2210">1.知识与能力目标：借助于数轴，初步理解绝<tspan x="1727" dy="14">对值的概念，能求一个数的绝对值，初步学会</tspan><tspan x="1727" dy="14">求绝对值等于某一个正数的有理数。</tspan></text></g>
<g id="p4-2b"><text x="1727" y="2285">2.过程与方法目标：通过从数形两个侧面理解<tspan x="1727" dy="14">绝对值的意义，初步了解数形结合的思想方法</tspan><tspan x="1727" dy="14">。通过应用绝对值解决实际问题，体会绝对值</tspan><tspan x="1727" dy="14">的意义。</tspan></text></g>
<g id="p4-2c"><text x="1727" y="2374">3.情感态度与价值观：通过应用绝对值解决实<tspan x="1727" dy="14">际问题，培养学生浓厚的学习兴趣，使学生能</tspan><tspan x="1727" dy="14">积极参与数学学习活动，对数学有好奇心与求</tspan><tspan x="1727" dy="14">知欲。</tspan></text></g>
<g id="p4-3"><text x="1648" y="2500">●教学重点与难点</text></g>
<g id="p4-3a"><text x="1759" y="2462">教学重点：绝对值的几何意义和代数意义，以<tspan x="1759" dy="14">及求一个数的绝对值。</tspan></text></g>
<g id="p4-3b"><text x="1759" y="2523">教学难点：绝对值定义的得出、意义的理解，<tspan x="1759" dy="14">以及求绝对值等于某一个正数的有理数。</tspan></text></g>
<g id="p4-4"><text x="1648" y="2584">●教学准备</text></g>
<g id="p4-4a"><text x="1727" y="2584">多媒体课件</text></g>
<g id="p4-5"><text x="1648" y="3720">●教学过程</text></g>
<g id="p4-5a"><text x="1727" y="2763.5">一、创设问题情境</text></g>
<g id="p4-5a1"><text x="1843" y="2648.7">1、两只小狗从同一点O出发，在一条笔直的<tspan x="1843" dy="14">街上跑，一只向右跑10米到达A点，另一只向</tspan><tspan x="1843" dy="14">左跑10米到达B点。若规定向右为正，则A处</tspan><tspan x="1843" dy="14">记作_________，B处记作_________。</tspan></text></g>
<g id="p4-5a1a"><text x="2087" y="2632">以O为原点，取适当的单位长度画数轴，并标<tspan x="2087" dy="14">出A、B的位置。</tspan></text></g>
<g id="p4-5a1b"><text x="2087" y="2693">(用生动有趣的引例吸引学生，即复习了数轴<tspan x="2087" dy="14">和相反数，又为下文作准备)。</tspan></text></g>
<g id="p4-5a2"><text x="1843" y="2754">2、这两只小狗在跑的过程中，有没有共同的<tspan x="1843" dy="14">地方?在数轴上的A、B两点又有什么特征?(从</tspan><tspan x="1843" dy="14">形和数两个角度去感受绝对值)。</tspan></text></g>
<g id="p4-5a3"><text x="1843" y="2849">3、在数轴上找到-5和5的点，它们到原点的<tspan x="1843" dy="14">距离分别是多少?表示-和的点呢?</tspan></text></g>
<g id="p4-5a3a"><text x="2087" y="2829">小结：在实际生活中，有时存在这样的情况，<tspan x="2087" dy="14">无需考虑数的正负性质，比如：在计算小狗所</tspan><tspan x="2087" dy="14">跑的路程中，与小狗跑的方向无关，这时所走</tspan><tspan x="2087" dy="14">的路程只需用正数，这样就必须引进一个新的</tspan><tspan x="2087" dy="14">概念———绝对值。</tspan></text></g>
<g id="p4-5b"><text x="1727" y="3100">二、建立数学模型</text></g>
<g id="p4-5b1"><text x="1843" y="3009.6">1、绝对值的概念</text></g>
<g id="p4-5b1a"><text x="1955" y="2931">(借助于数轴这一工具，师生共同讨论，引出<tspan x="1955" dy="14">绝对值的概念)</tspan></text></g>
<g id="p4-5b1b"><text x="1955" y="2992">绝对值的几何定义：一个数在数轴上对应的点<tspan x="1955" dy="14">到原点的距离叫做这个数的绝对值。比如：-</tspan><tspan x="1955" dy="14">5到原点的距离是5，所以-5的绝对值是5，记</tspan><tspan x="1955" dy="14">|-5|=5;5的绝对值是5，记做|5|=5。</tspan></text></g>
<g id="p4-5b1c"><text x="1955" y="3081">注意：①与原点的关系 ②是个距离的概念</text></g>
<g id="p4-5b2"><text x="1843" y="3128.6">2..练习1：请学生举一个生活中的实际例子，<tspan x="1843" dy="13.8">说明解决有的问题只需考虑的数绝对值。[温</tspan><tspan x="1843" dy="13.8">度上升了5度，用 +5表示的话，那么下降了5</tspan><tspan x="1843" dy="13.8">度，就用-5 表示，如果我们不去考虑它的意</tspan><tspan x="1843" dy="13.8">义(即：上升还是下降)，只考虑数量(即：温</tspan><tspan x="1843" dy="13.8">度)的变化，我们可以说：温度的变化都是5度</tspan><tspan x="1843" dy="13.8">。银行存款，如果存入100元用+100表示，</tspan><tspan x="1843" dy="13.8">那么取出100元就用-100表示，如果我们不去</tspan><tspan x="1843" dy="13.8">考虑它的意义(即：存入还是取出)，只考虑数</tspan><tspan x="1843" dy="13.8">量的多少，我们可以说：金额都是100元。]</tspan></text></g>
<g id="p4-5b2a"><text x="2087" y="3183.5">(通过应用绝对值解决实际问题，体会绝对值<tspan x="2087" dy="14">的意义与作用，感受数学在生活中的价值。)</tspan></text></g>
<g id="p4-5c"><text x="1727" y="3882">三、应用深化知识</text></g>
<g id="p4-5c1"><text x="1843" y="3323">1、例题求解</text></g>
<g id="p4-5c1a"><text x="1934" y="3299.6">例1、求下列各数的绝对值</text></g>
<g id="p4-5c1b"><text x="1934" y="3346.8">-1.6，，0，-10，+10</text></g>
<g id="p4-5c2"><text x="1843" y="3394.6">2、根据上述题目,让学生归纳总结绝对值的特<tspan x="1843" dy="14">点。(教师进行补充小结)</tspan></text></g>
<g id="p4-5c2a"><text x="2087" y="3401">特点：1、一个正数的绝对值是它本身</text></g>
<g id="p4-5c3"><text x="1843" y="3456">2、一个负数的绝对值是它的相反数</text></g>
<g id="p4-5c4"><text x="1843" y="3503">3、零的绝对值是零</text></g>
<g id="p4-5c5"><text x="1843" y="3550">4、互为相反数的两个数的绝对值相等</text></g>
<g id="p4-5c6"><text x="1843" y="3689">3.出示题目</text></g>
<g id="p4-5c6a"><text x="1926" y="3598">(1) -3的符号是______，绝对值是_____；</text></g>
<g id="p4-5c6b"><text x="1926" y="3645">(2) +3的符号是______，绝对值是_____；</text></g>
<g id="p4-5c6c"><text x="1926" y="3693">(3) -6.5的符号是______，绝对值是_____；</text></g>
<g id="p4-5c6d"><text x="1926" y="3781">(4) +6.5的符号是______，绝对值是_____；</text></g>
<g id="p4-5c6d1"><text x="2157" y="3739.6">学生口答。</text></g>
<g id="p4-5c6d2"><text x="2157" y="3788">师：上面我们看到任何一个有理数都由符号<tspan x="2157" dy="13.6">，和绝对值两个部分构成。现在有一个问</tspan><tspan x="2157" dy="13.6">题想问问大家，在上一节课中我们学过符</tspan><tspan x="2157" dy="13.6">号不同的两个数称互为相反数。那么在今</tspan><tspan x="2157" dy="13.6">天学习了绝对值以后，你能给相反数一个</tspan><tspan x="2157" dy="13.6">解释吗?</tspan></text></g>
<g id="p4-5c7"><text x="1843" y="4019">5、练习3：回答下列问题</text></g>
<g id="p4-5c7a"><text x="1994" y="3903.6">①一个数的绝对值是它本身，这个数是什么数<tspan x="1994" dy="14">?</tspan></text></g>
<g id="p4-5c7b"><text x="1994" y="3965">②一个数的绝对值是它的相反数，这个数是什<tspan x="1994" dy="14">么数?</tspan></text></g>
<g id="p4-5c7c"><text x="1994" y="4026">③一个数的绝对值一定是正数吗?</text></g>
<g id="p4-5c7d"><text x="1994" y="4073">④一个数的绝对值不可能是负数，对吗?</text></g>
<g id="p4-5c7e"><text x="1994" y="4120">⑤绝对值是同一个正数的数有两个，它们互为<tspan x="1994" dy="14">相反数，这句话对吗?</tspan></text></g>
<g id="p4-5c7e1"><text x="2239" y="4127">(由学生口答完成)</text></g>
<g id="p4-5c8"><text x="1843" y="4261">6、例2.求绝对值等于4的数</text></g>
<g id="p4-5c8a"><text x="2003" y="4181">(让学生考虑这样的数有几个，是怎样得出这<tspan x="2003" dy="14">个结果的呢?对后一个问题由学生去讨论，启</tspan><tspan x="2003" dy="14">发学生从数与形两个方面考虑，培养学生的发</tspan><tspan x="2003" dy="14">散思维能力。)</tspan></text></g>
<g id="p4-5c8b"><text x="2003" y="4321">分析：</text></g>
<g id="p4-5c8b1"><text x="2065" y="4278">①从数字上分析</text></g>
<g id="p4-5c8b1a"><text x="2170" y="4270">∵|+4|=4，|-4|=4 ∴绝对值等于4的数是+4和<tspan x="2170" dy="14">-4画一个数轴(如下图)</tspan></text></g>
<g id="p4-5c8b2"><text x="2065" y="4366">②从几何意义上分析，画一个数轴(如下图)</text></g>
<g id="p4-5c8b2a"><text x="2295" y="4337">因为到原点距离等于4的点有两个，<tspan x="2295" dy="14">即表示+4和-4的点</tspan></text></g>
<g id="p4-5c8b2b"><text x="2295" y="4394">所以绝对值等于4的数是±4</text></g>
<g id="p4-5c9"><text x="1843" y="4440">6、练习：做书上12页课内练习1、2两题。</text></g>
<g id="p4-5d"><text x="1727" y="4539">四、归纳小结</text></g>
<g id="p4-5d1"><text x="1822" y="4487">1、本节课我们学习了什么知识?</text></g>
<g id="p4-5d2"><text x="1822" y="4535">2、你觉得本节课有什么收获?</text></g>
<g id="p4-5d3"><text x="1822" y="4582">3、由学生自行总结在自主探究，合作学习中<tspan x="1822" dy="14">的体会。</tspan></text></g>
<g id="p4-5e"><text x="1727" y="4677">五、课后作业</text></g>
<g id="p4-5e1"><text x="1822" y="4643">1、让学生去寻找一些生活中只考虑绝对值的<tspan x="1822" dy="14">实际例子。</tspan></text></g>
<g id="p4-5e2"><text x="1822" y="4705">2、课本15页的作业题。</text></g>
</g>

<g id="rel">
<g id="rel-node" class="n"><rect x="1443" y="4944.5" width="224" height="31" rx="15.5"/><text x="1555" y="4965">七年级数学老师教案相关文章：</text></g>
<g id="rel-1"><text x="1694" y="4752">★ 初中数学人教版教案范文五篇</text></g>
<g id="rel-2"><text x="1694" y="4799">★ 七年级数学优质课教案最新文案</text></g>
<g id="rel-3"><text x="1694" y="4846.5">★ 最新初一数学优秀教案范文</text></g>
<g id="rel-4"><text x="1694" y="4894">★ 初一上册数学教案5篇</text></g>
<g id="rel-5"><text x="1694" y="4941">★ 七年级上册数学优质教学设计五篇</text></g>
<g id="rel-6"><text x="1694" y="4989">★ 七年级下册数学教学设计五篇</text></g>
<g id="rel-7"><text x="1694" y="5036">★ 数学七年级人教版教学计划5篇</text></g>
<g id="rel-8"><text x="1694" y="5084">★ 七年级下册初中数学教案5篇</text></g>
<g id="rel-9"><text x="1694" y="5131">★ 数学七年级教学设计5篇</text></g>
<g id="rel-10"><text x="1694" y="5178">★ 初一数学教案模版2021文案</text></g>
</g>

<g class="wm">
<text transform="translate(620 550) rotate(-31)">树图 shutu.cn</text>
<text transform="translate(620 1549) rotate(-31)">树图 shutu.cn</text>
<text transform="translate(650 2490) rotate(-31)">树图 shutu.cn</text>
<text transform="translate(640 3540) rotate(-31)">树图 shutu.cn</text>
<text transform="translate(640 4530) rotate(-31)">树图 shutu.cn</text>
<text transform="translate(620 5560) rotate(-31)">树图 shutu.cn</text>
<text transform="translate(1920 480) rotate(-31)">树图 shutu.cn</text>
<text transform="translate(1920 1495) rotate(-31)">树图 shutu.cn</text>
<text transform="translate(1925 2517) rotate(-31)">树图 shutu.cn</text>
<text transform="translate(1925 3517) rotate(-31)">树图 shutu.cn</text>
<text transform="translate(1922 4531) rotate(-31)">树图 shutu.cn</text>
<text transform="translate(1920 5545) rotate(-31)">树图 shutu.cn</text>
</g>
</g>
</svg>
